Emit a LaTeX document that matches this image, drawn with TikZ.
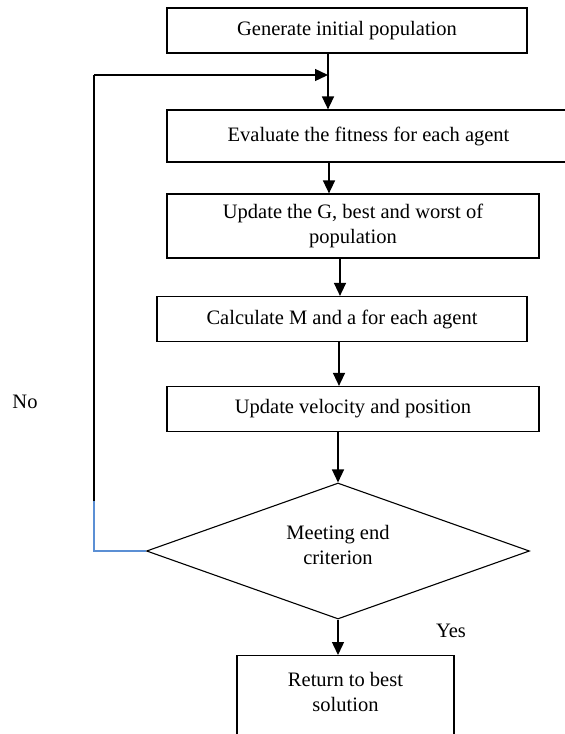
\documentclass[tikz,border=0pt]{standalone}
\usepackage{fontspec}
\setmainfont{Liberation Serif}
\usetikzlibrary{shapes.geometric,arrows.meta}
\definecolor{loopblue}{HTML}{5B8FD4}
\begin{document}
\begin{tikzpicture}[x=1pt,y=-1pt,
  every node/.style={font=\fontsize{20.5}{24.5}\selectfont, inner sep=0pt},
  procbox/.style={draw, line width=1.2pt, align=center},
  decis/.style={draw, diamond, line width=1.1pt, align=center},
  arr/.style={line width=1.4pt, -{Triangle[length=13pt,width=12pt]}},
  lnk/.style={line width=1.3pt}]
\useasboundingbox (0,0) rectangle (565,734);
\node[procbox, minimum width=360pt, minimum height=45pt] (b1) at (347,30.5) {Generate initial population};
\node[procbox, minimum width=403pt, minimum height=52pt] (b2) at (368.5,136) {Evaluate the fitness for each agent};
\node[procbox, minimum width=372pt, minimum height=64pt] (b3) at (353,226) {Update the G, best and worst of\\population};
\node[procbox, minimum width=370pt, minimum height=45pt] (b4) at (342,319) {Calculate M and a for each agent};
\node[procbox, minimum width=372pt, minimum height=45pt] (b5) at (353,409) {Update velocity and position};
\node[decis, minimum width=383pt, minimum height=136pt] (d) at (338,551) {};
\node[align=center] (dt) at (338,545) {Meeting end\\criterion};
\node[procbox, minimum width=217pt, minimum height=90pt, anchor=north] (b6) at (345.5,655) {};
\node[align=center] (b6t) at (345.5,692) {Return to best\\solution};
\node (no) at (25,402) {No};
\node (yes) at (451,631) {Yes};
\coordinate (xa) at (328,0);
\coordinate (xb) at (329,0);
\coordinate (xc) at (340,0);
\coordinate (xd) at (339,0);
\coordinate (lb) at (94,501);
\coordinate (lt) at (94,75);
\coordinate (lj) at (328,75);
\draw[arr] (xa |- b1.south) -- (xa |- b2.north);
\draw[arr] (xb |- b2.south) -- (xb |- b3.north);
\draw[arr] (xc |- b3.south) -- (xc |- b4.north);
\draw[arr] (xd |- b4.south) -- (xd |- b5.north);
\draw[arr] (d.north |- b5.south) -- (d.north);
\draw[arr] (d.south) -- (d.south |- b6.north);
\draw[loopblue, line width=1.1pt] (d.west) -- (d.west -| lb) -- (lb);
\draw[lnk] (lb) -- (lt);
\draw[arr] (lt) -- (lj);
\end{tikzpicture}
\end{document}
